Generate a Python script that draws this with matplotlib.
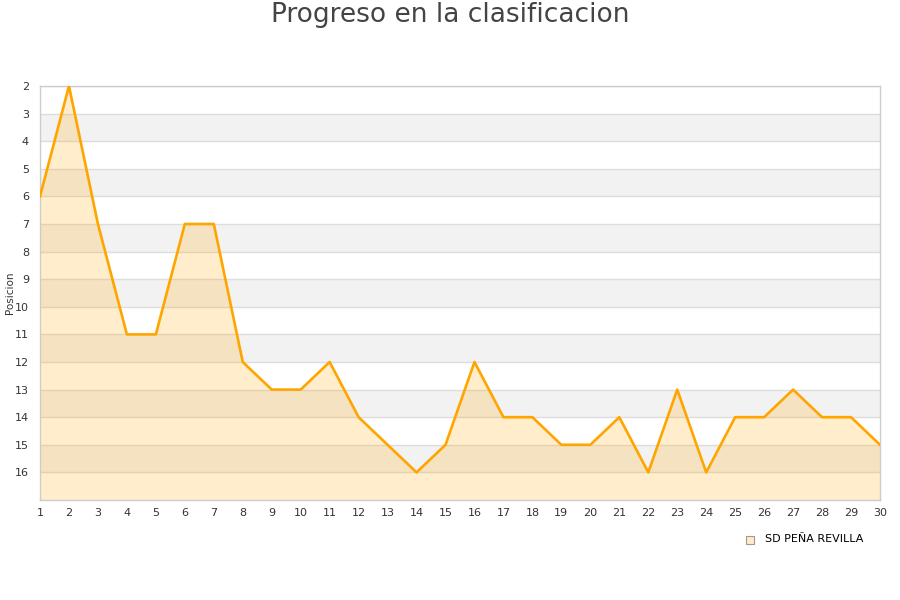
import numpy as np
import matplotlib
matplotlib.use("Agg")
import matplotlib.pyplot as plt
from matplotlib.patches import Rectangle

jornadas = list(range(1, 31))
posicion = [6, 2, 7, 11, 11, 7, 7, 12, 13, 13, 12, 14, 15, 16, 15,
            12, 14, 14, 15, 15, 14, 16, 13, 16, 14, 14, 13, 14, 14, 15]
equipo = "SD PEÑA REVILLA"
y_ticks = list(range(2, 17))

fig = plt.figure(figsize=(9, 6), dpi=100)
ax = fig.add_axes([40 / 900, 1 - 500 / 600, 840 / 900, 414 / 600])

ax.set_xlim(1, 30)
ax.set_ylim(17, 2)

# alternating bands between grid lines
for k in range(2, 17):
    if (k - 2) % 2 == 1:
        ax.axhspan(k, k + 1, color='#f2f2f2', zorder=0, lw=0)
for k in y_ticks:
    ax.axhline(k, color='#dddddd', lw=1, zorder=1)

ax.fill_between(jornadas, posicion, 17, color='#ffa500', alpha=0.2, lw=0, zorder=2)
ax.plot(jornadas, posicion, color='#ffa500', lw=1.9, zorder=3)

ax.set_xticks(jornadas)
ax.set_yticks(y_ticks)
ax.tick_params(axis='both', length=0, labelsize=8, colors='#333333', pad=6)
ax.tick_params(axis='y', pad=8)
for side in ['top', 'right', 'bottom', 'left']:
    ax.spines[side].set_color('#cccccc')
    ax.spines[side].set_linewidth(1)

fig.text(10 / 900, 1 - 293 / 600, "Posicion", rotation=90, fontsize=7.5,
         color='#333333', ha='center', va='center')
fig.suptitle("Progreso en la clasificacion", y=1 - 15 / 600, va='center',
             fontsize=19, color='#444444')

fig.patches.append(Rectangle((746 / 900, 1 - 544 / 600), 8 / 900, 8 / 600,
                             transform=fig.transFigure, facecolor='#ffebc8',
                             edgecolor='#999999', lw=0.8))
fig.text(765 / 900, 1 - 539 / 600, equipo, fontsize=8, color='#000000',
         ha='left', va='center')

fig.savefig("out.png", dpi=100)
